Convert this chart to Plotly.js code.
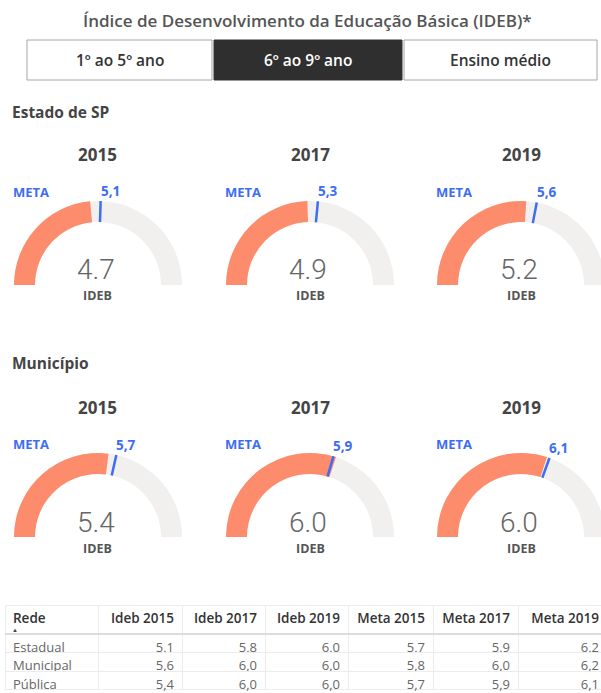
<!DOCTYPE html>
<html>
<head>
<meta charset="utf-8">
<script src="https://cdn.plot.ly/plotly-3.0.1.min.js"></script>
<style>
html,body{margin:0;padding:0;overflow:hidden;background:#fff;width:601px;height:693px;}
#chart{width:612px;height:693px;}
</style>
</head>
<body>
<div id="chart"></div>
<script>
// ---- data ----
var anos = ['2015', '2017', '2019'];
var idebSP = [4.7, 4.9, 5.2];
var metaSP = [5.1, 5.3, 5.6];
var idebMun = [5.4, 6.0, 6.0];
var metaMun = [5.7, 5.9, 6.1];
var gaugeMax = 10;

var botoes = ['1º ao 5º ano', '6º ao 9º ano', 'Ensino médio'];
var botaoAtivo = 1;

var tabelaHeader = ['Rede', 'Ideb 2015', 'Ideb 2017', 'Ideb 2019', 'Meta 2015', 'Meta 2017', 'Meta 2019'];
var redes = ['Estadual', 'Municipal', 'Pública'];
var ideb2015 = [5.1, 5.6, 5.4];
var ideb2017 = [5.8, 6.0, 6.0];
var ideb2019 = [6.0, 6.0, 6.0];
var meta2015 = [5.7, 5.8, 5.7];
var meta2017 = [5.9, 6.0, 5.9];
var meta2019 = [6.2, 6.2, 6.1];

// ---- layout helpers ----
var W = 612, H = 693;
function X(px) { return px / W; }
function Y(py) { return 1 - py / H; }
var FONT = 'Open Sans, Noto Sans, sans-serif';
var NUMFONT = 'Roboto, Lato, sans-serif';
var ORANGE = '#FD8C6C', GRAYBG = '#F1F0EF', BLUE = '#3D6DF2';
function fmtComma(v) { return v.toFixed(1).replace('.', ','); }
function nb(s) { return s.replace(/ /g, '\u00a0'); }

var traces = [];
var annotations = [];
var shapes = [];

// Title
annotations.push({x: X(307), y: Y(21), xref: 'paper', yref: 'paper', text: 'Índice de Desenvolvimento da Educação Básica (IDEB)*',
  showarrow: false, xanchor: 'center', yanchor: 'middle', font: {family: FONT, size: 17, color: '#555', weight: 600}});

// Buttons
var btnX = [[27, 212], [214, 402], [404, 597]];
botoes.forEach(function (b, i) {
  var active = i === botaoAtivo;
  shapes.push({type: 'rect', xref: 'paper', yref: 'paper', x0: X(btnX[i][0]), x1: X(btnX[i][1]), y0: Y(80), y1: Y(40),
    line: {color: active ? '#333' : '#A6A6A6', width: 1}, fillcolor: active ? '#2F2F2F' : '#fff', layer: 'below'});
  annotations.push({x: X((btnX[i][0] + btnX[i][1]) / 2), y: Y(60), xref: 'paper', yref: 'paper', text: b, showarrow: false,
    xanchor: 'center', yanchor: 'middle', font: {family: FONT, size: 15.5, color: active ? '#fff' : '#333', weight: 600}});
});

// Section headers
annotations.push({x: X(10), y: Y(112), xref: 'paper', yref: 'paper', text: 'Estado de SP', showarrow: false,
  xanchor: 'left', yanchor: 'middle', font: {family: FONT, size: 15.5, color: '#444', weight: 700}});
annotations.push({x: X(10), y: Y(363), xref: 'paper', yref: 'paper', text: 'Município', showarrow: false,
  xanchor: 'left', yanchor: 'middle', font: {family: FONT, size: 15.5, color: '#444', weight: 700}});

// Gauges
var cxs = [98, 310, 521];
var R = 84;
function addGauge(cx, bottom, val, meta, ano, yearY, numY, idebY) {
  traces.push({
    type: 'indicator', mode: 'gauge', value: val,
    domain: {x: [X(cx - R), X(cx + R)], y: [Y(bottom), Y(bottom - R)]},
    gauge: {
      shape: 'angular',
      axis: {range: [0, gaugeMax], visible: false},
      bar: {color: ORANGE, thickness: 1, line: {width: 0}},
      bgcolor: GRAYBG, borderwidth: 0,
      threshold: {line: {color: BLUE, width: 2.5}, thickness: 1, value: meta}
    }
  });
  annotations.push({x: X(cx), y: Y(yearY), xref: 'paper', yref: 'paper', text: ano, showarrow: false,
    xanchor: 'center', yanchor: 'middle', font: {family: FONT, size: 17, color: '#444', weight: 700}});
  annotations.push({x: X(cx - R - 3), y: Y(bottom - R - 9), xref: 'paper', yref: 'paper', text: 'META', showarrow: false,
    xanchor: 'left', yanchor: 'middle', font: {family: FONT, size: 13, color: BLUE, weight: 700}});
  var th = Math.PI * (1 - meta / gaugeMax);
  var ox = cx + R * Math.cos(th), oy = bottom - R * Math.sin(th);
  annotations.push({x: X(ox - 2), y: Y(oy - 10), xref: 'paper', yref: 'paper', text: fmtComma(meta), showarrow: false,
    xanchor: 'left', yanchor: 'middle', font: {family: FONT, size: 13.5, color: BLUE, weight: 700}});
  annotations.push({x: X(cx - 2), y: Y(numY), xref: 'paper', yref: 'paper', text: val.toFixed(1), showarrow: false,
    xanchor: 'center', yanchor: 'middle', font: {family: NUMFONT, size: 28, color: '#666', weight: 300}});
  annotations.push({x: X(cx), y: Y(idebY), xref: 'paper', yref: 'paper', text: 'IDEB', showarrow: false,
    xanchor: 'center', yanchor: 'middle', font: {family: FONT, size: 12.5, color: '#555', weight: 700}});
}
for (var i = 0; i < 3; i++) {
  addGauge(cxs[i], 285, idebSP[i], metaSP[i], anos[i], 154, 269, 295);
  addGauge(cxs[i], 537, idebMun[i], metaMun[i], anos[i], 407, 522, 548);
}

// Table
var cols = [redes, ideb2015.map(fmtComma), ideb2017.map(fmtComma), ideb2019.map(fmtComma),
  meta2015.map(fmtComma), meta2017.map(fmtComma), meta2019.map(fmtComma)];
var aligns = ['left', 'right', 'right', 'right', 'right', 'right', 'right'];
traces.push({
  type: 'table',
  domain: {x: [X(5), X(607)], y: [0, Y(605)]},
  columnwidth: [93, 84, 83, 83, 85, 85, 89],
  header: {values: tabelaHeader.map(nb), align: aligns, height: 29,
    font: {family: FONT, size: 13.5, color: '#333', weight: 600},
    fill: {color: '#fff'}, line: {color: '#EDEDED', width: 1}},
  cells: {values: cols, align: aligns, height: 18.5,
    font: {family: FONT, size: 13, color: '#666', weight: 400},
    fill: {color: '#fff'}, line: {color: '#ECECEC', width: 1}}
});
shapes.push({type: 'line', xref: 'paper', yref: 'paper', x0: X(5), x1: 1, y0: Y(634), y1: Y(634),
  line: {color: '#DCDCDC', width: 2}, layer: 'above'});
annotations.push({x: X(15), y: Y(630), xref: 'paper', yref: 'paper', text: '▲', showarrow: false,
  xanchor: 'center', yanchor: 'middle', font: {family: FONT, size: 6, color: '#444'}});

var layout = {
  width: W, height: H,
  margin: {l: 0, r: 0, t: 0, b: 0},
  paper_bgcolor: '#fff',
  showlegend: false,
  annotations: annotations,
  shapes: shapes
};
Plotly.newPlot('chart', traces, layout, {displayModeBar: false, staticPlot: true});
</script>
</body>
</html>
